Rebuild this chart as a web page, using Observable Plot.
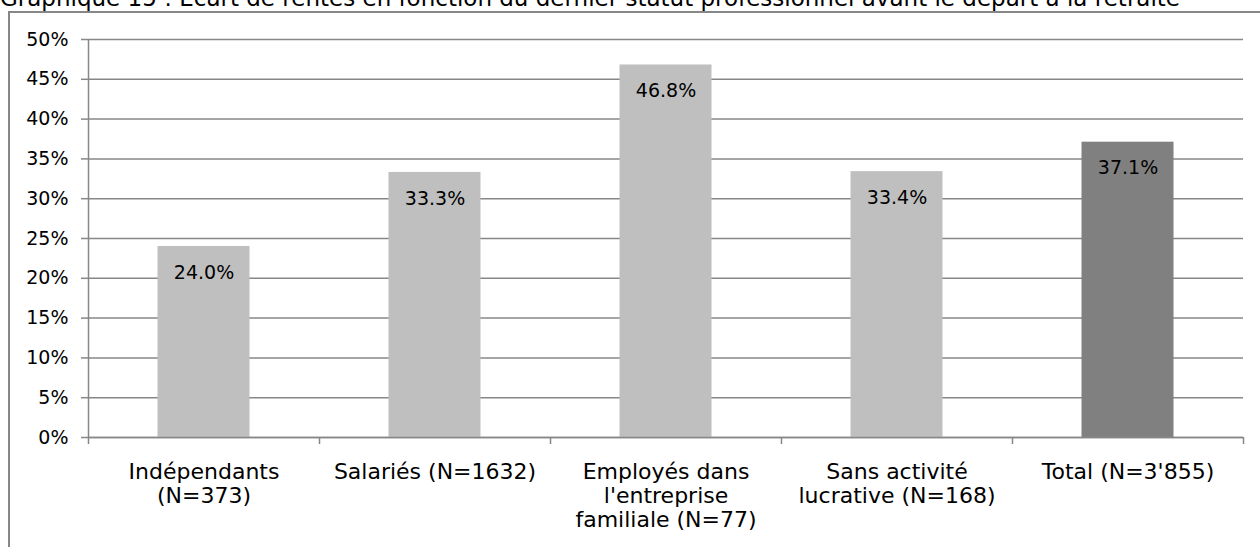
<!DOCTYPE html>
<html>
<head>
<meta charset="utf-8">
<script src="https://cdn.jsdelivr.net/npm/d3@7"></script>
<script src="https://cdn.jsdelivr.net/npm/@observablehq/plot@0.6"></script>
<style>
  html, body { margin: 0; padding: 0; background: #fff; overflow: hidden; }
  #wrap { position: relative; width: 1260px; height: 547px; overflow: hidden; font-family: "DejaVu Sans", sans-serif; }
  #title { position: absolute; left: 0; top: -16px; font-size: 23px; white-space: nowrap; color: #000; line-height: 28px; }
  #frame { position: absolute; left: 8px; top: 11px; width: 1300px; height: 600px; border-left: 2px solid #878787; border-top: 2px solid #878787; box-sizing: border-box; }
  #chart { position: absolute; left: 0; top: 0; }
</style>
</head>
<body>
<div id="wrap">
  <div id="frame"></div>
  <div id="title">Graphique 15 : Ecart de rentes en fonction du dernier statut professionnel avant le départ à la retraite</div>
  <div id="chart"></div>
</div>
<script>
const categories = [
  "Indépendants (N=373)",
  "Salariés (N=1632)",
  "Employés dans l'entreprise familiale (N=77)",
  "Sans activité lucrative (N=168)",
  "Total (N=3'855)"
];
const tickLabels = [
  "Indépendants\n(N=373)",
  "Salariés (N=1632)",
  "Employés dans\nl'entreprise\nfamiliale (N=77)",
  "Sans activité\nlucrative (N=168)",
  "Total (N=3'855)"
];
const values = [24.0, 33.3, 46.8, 33.4, 37.1];
const yTicks = [0, 5, 10, 15, 20, 25, 30, 35, 40, 45, 50];

const data = categories.map((c, i) => ({cat: c, label: tickLabels[i], value: values[i], total: i === categories.length - 1}));

const W = 1260, H = 547;
const mL = 88, mR = 17, mT = 39, mB = 110;
const bw = (W - mL - mR) / categories.length;
const barW = 92;
const inset = (bw - barW) / 2;
const plotH = H - mT - mB;
const gray = "#878787";

const chart = Plot.plot({
  width: W,
  height: H,
  marginLeft: mL,
  marginRight: mR,
  marginTop: mT,
  marginBottom: mB,
  style: {fontFamily: "DejaVu Sans, sans-serif", fontSize: "20px", color: "#000", background: "transparent", overflow: "visible"},
  x: {domain: categories, padding: 0, label: null},
  y: {domain: [0, 50], label: null},
  marks: [
    Plot.gridY(yTicks, {stroke: gray, strokeOpacity: 1, strokeWidth: 1.5}),
    Plot.barY(data, {x: "cat", y: "value", fill: d => d.total ? "#808080" : "#bfbfbf", insetLeft: inset, insetRight: inset}),
    Plot.text(data, {x: "cat", y: "value", text: d => d.value.toFixed(1) + "%", dy: 26, fontSize: 19, fill: "#000"}),
    Plot.ruleY([0], {stroke: gray, strokeWidth: 1.5}),
    Plot.ruleX([categories[0]], {x: d => d, dx: -bw / 2, stroke: gray, strokeWidth: 1.5}),
    Plot.ruleX(categories, {x: d => d, dx: -bw / 2, stroke: gray, strokeWidth: 1.5, insetTop: plotH, insetBottom: -7}),
    Plot.ruleX([categories[categories.length - 1]], {x: d => d, dx: bw / 2, stroke: gray, strokeWidth: 1.5, insetTop: plotH, insetBottom: -7}),
    Plot.axisY(yTicks, {tickFormat: d => d + "%", tickSize: 7, tickPadding: 13, stroke: gray, strokeWidth: 1.5, fontSize: 19, fill: "#000"}),
    Plot.axisX({tickSize: 0, tickPadding: 24, tickFormat: (d, i) => tickLabels[categories.indexOf(d)], lineHeight: 1.1, fontSize: 22, fill: "#000"})
  ]
});
document.getElementById("chart").appendChild(chart);
</script>
</body>
</html>
